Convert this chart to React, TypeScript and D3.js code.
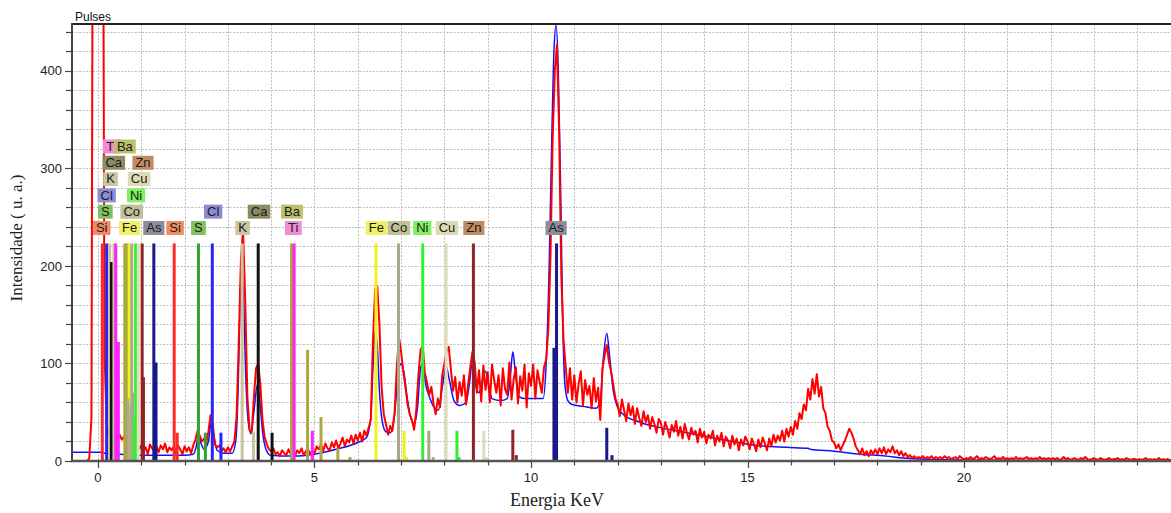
import React from 'react';
import * as d3 from 'd3';

// ---------------- DATA ----------------
// Measured spectrum (red), 0.05 keV steps; each row starts at redRowStart[r]
const redRowStart = [-0.6, 0, 1, 2, 3, 4, 5, 6, 7, 8, 9, 10, 11, 12, 13, 14, 15, 16, 17, 18, 19, 20, 21, 22, 23, 24];
const redRows: number[][] = [
  [0, 0, 0, 0, 0, 0, 0, 0, 3, 45, 1000, 1500],
  [1600, 1400, 900, 110, 40, 28, 22, 18, 21, 25, 27, 22, 25, 19, 23, 17, 21, 14, 18, 12],
  [16, 11, 14, 7, 17, 13, 10, 15, 9, 16, 12, 18, 9, 14, 11, 15, 8, 16, 12, 7],
  [15, 10, 14, 8, 16, 22, 31, 26, 20, 23, 18, 30, 47, 38, 17, 14, 16, 10, 13, 9],
  [14, 10, 15, 20, 45, 120, 205, 237, 165, 66, 32, 29, 65, 95, 100, 78, 42, 24, 17, 12],
  [10, 13, 7, 9, 5, 11, 8, 6, 12, 7, 9, 5, 11, 8, 13, 6, 10, 12, 7, 11],
  [8, 15, 12, 17, 10, 18, 13, 11, 19, 14, 21, 13, 18, 24, 15, 22, 19, 26, 18, 27],
  [21, 29, 20, 31, 26, 34, 42, 122, 176, 179, 140, 76, 48, 38, 27, 36, 31, 50, 95, 127],
  [112, 92, 76, 58, 48, 42, 32, 52, 88, 114, 118, 90, 80, 68, 76, 58, 48, 64, 55, 88],
  [100, 112, 117, 94, 72, 86, 60, 81, 67, 88, 58, 79, 97, 112, 101, 70, 93, 61, 98, 73],
  [91, 60, 99, 83, 70, 88, 57, 95, 74, 68, 101, 63, 84, 96, 59, 87, 72, 99, 55, 90],
  [77, 99, 64, 93, 81, 70, 96, 104, 135, 210, 330, 400, 427, 336, 190, 125, 97, 70, 95, 63],
  [88, 60, 79, 92, 57, 83, 68, 77, 54, 85, 61, 75, 42, 95, 108, 119, 102, 92, 78, 64],
  [58, 46, 63, 52, 41, 59, 47, 56, 38, 54, 44, 36, 51, 40, 47, 33, 45, 38, 29, 43],
  [39, 27, 40, 33, 24, 37, 30, 41, 26, 35, 23, 38, 29, 22, 34, 27, 31, 19, 33, 24],
  [30, 18, 27, 23, 31, 16, 26, 20, 29, 15, 25, 21, 13, 26, 17, 23, 11, 22, 16, 25],
  [20, 12, 23, 17, 10, 22, 14, 24, 18, 11, 23, 15, 27, 19, 26, 21, 31, 20, 33, 25],
  [35, 27, 41, 33, 49, 43, 58, 52, 74, 63, 84, 69, 89, 66, 76, 54, 49, 35, 31, 21],
  [19, 13, 17, 11, 16, 21, 27, 33, 29, 23, 15, 11, 7, 13, 6, 10, 5, 11, 7, 12],
  [7, 13, 8, 14, 7, 12, 9, 15, 8, 11, 6, 10, 5, 8, 4, 6, 3, 5, 3, 4],
  [3, 5, 2, 4, 3, 5, 2, 4, 3, 4, 2, 5, 3, 4, 2, 3, 4, 2, 5, 3],
  [2, 3, 2, 4, 2, 3, 5, 2, 3, 2, 4, 3, 2, 3, 5, 2, 3, 2, 4, 2],
  [3, 2, 3, 2, 4, 2, 3, 2, 3, 4, 2, 3, 2, 3, 2, 4, 2, 3, 2, 3],
  [2, 3, 2, 3, 1, 2, 4, 2, 3, 1, 2, 3, 2, 1, 3, 2, 4, 2, 1, 2],
  [3, 2, 1, 3, 2, 1, 2, 3, 1, 2, 2, 3, 1, 2, 1, 3, 2, 1, 2, 2],
  [1, 2, 1, 2, 3, 1, 2, 1, 2, 1, 3, 1, 2, 1, 2, 1, 1],
];
const redStep = 0.05;

// Fitted spectrum (blue)
const blueEnergy = [-0.6, 0.1, 0.15, 0.5, 1.0, 1.5, 2.0, 2.2, 2.27, 2.32, 2.38, 2.45, 2.55, 2.62, 2.68, 2.75, 2.9, 3.1, 3.18, 3.24, 3.28, 3.32, 3.36, 3.41, 3.47, 3.53, 3.6, 3.68, 3.74, 3.8, 3.88, 3.98, 4.5, 5.0, 5.5, 6.0, 6.2, 6.3, 6.35, 6.4, 6.45, 6.5, 6.56, 6.65, 6.75, 6.85, 6.93, 7.0, 7.06, 7.14, 7.22, 7.3, 7.38, 7.45, 7.5, 7.57, 7.66, 7.76, 7.86, 7.96, 8.04, 8.12, 8.22, 8.35, 8.5, 8.58, 8.64, 8.7, 8.8, 8.9, 8.95, 9.02, 9.1, 9.3, 9.45, 9.52, 9.58, 9.64, 9.72, 9.85, 10.28, 10.35, 10.42, 10.48, 10.53, 10.58, 10.63, 10.68, 10.73, 10.78, 10.85, 10.95, 11.2, 11.5, 11.6, 11.67, 11.75, 11.82, 11.9, 12.0, 12.1, 12.5, 12.9, 13.6, 14.4, 15.2, 15.9, 16.4, 16.45, 17.0, 17.6, 18.2, 18.6, 19.0, 20.0, 24.78];
const blueCounts = [9, 9, 8, 7, 6, 6, 6, 7, 15, 27, 18, 12, 20, 41, 25, 11, 8, 8, 20, 80, 160, 209, 170, 90, 40, 28, 50, 78, 60, 30, 12, 6, 5, 7, 12, 19, 24, 45, 95, 133, 118, 72, 42, 30, 29, 48, 88, 100, 92, 65, 45, 38, 55, 95, 100, 78, 65, 55, 52, 78, 97, 82, 62, 57, 60, 80, 100, 82, 70, 88, 92, 78, 64, 62, 64, 85, 112, 90, 66, 64, 64, 100, 200, 330, 420, 447, 400, 290, 150, 80, 62, 58, 56, 54, 62, 105, 131, 105, 72, 55, 49, 40, 35, 29, 22, 16, 14, 13, 12, 10, 7, 5, 3, 2, 1, 0.5];

// Element marker lines
const lineElement = ['Si', 'Cl', 'K', 'Ca', 'K', 'Ti', 'Ti', 'Ba', 'Ba', 'Fe', 'Co', 'Ni', 'Cu', 'Zn', 'Zn', 'As', 'As', 'Co', 'Co', 'Co', 'Ni', 'Ba',
  'Si', 'Si', 'S', 'S', 'Cl', 'Cl', 'K', 'K', 'Ca', 'Ca', 'Ba', 'Ba', 'Ba', 'Ba', 'Ba', 'Ti', 'Ti',
  'Fe', 'Fe', 'Fe', 'Co', 'Co', 'Co', 'Ni', 'Ni', 'Ni', 'Cu', 'Cu', 'Cu', 'Zn', 'Zn', 'Zn', 'As', 'As', 'As', 'As'];
const lineEnergy = [0.10, 0.20, 0.27, 0.31, 0.37, 0.41, 0.47, 0.62, 0.67, 0.72, 0.78, 0.87, 0.93, 1.02, 1.05, 1.29, 1.34, 0.69, 0.80, 0.76, 0.84, 0.64,
  1.76, 1.83, 2.32, 2.48, 2.64, 2.84, 3.33, 3.59, 3.70, 4.02, 4.47, 4.84, 5.15, 5.54, 5.82, 4.53, 4.95,
  6.42, 7.07, 7.13, 6.94, 7.64, 7.74, 7.50, 8.29, 8.34, 8.04, 8.91, 8.97, 8.67, 9.58, 9.66, 10.53, 10.59, 11.75, 11.87];
const lineIntensity = [223, 223, 223, 204, 223, 223, 122, 223, 223, 223, 223, 223, 223, 223, 86, 223, 101, 64, 70, 57, 44, 27,
  223, 29, 223, 29, 223, 29, 223, 30, 223, 29, 223, 114, 45, 13, 4, 223, 31,
  223, 31, 4, 223, 31, 4, 223, 31, 4, 223, 31, 4, 223, 32, 6, 116, 223, 34, 6];

// Element labels
const labelText = ['Si', 'S', 'Cl', 'K', 'Ca', 'Ti', 'Ba', 'Fe', 'Co', 'Ni', 'Cu', 'Zn', 'As', 'Si', 'S', 'Cl', 'K', 'Ca', 'Ba', 'Ti', 'Fe', 'Co', 'Ni', 'Cu', 'Zn', 'As'];
const labelEnergy = [0.085, 0.17, 0.2, 0.29, 0.365, 0.31, 0.62, 0.73, 0.78, 0.88, 0.95, 1.04, 1.29, 1.78, 2.32, 2.66, 3.34, 3.72, 4.48, 4.51, 6.43, 6.95, 7.49, 8.06, 8.68, 10.58];
const labelLevel = [0, 1, 2, 3, 4, 5, 5, 0, 1, 2, 3, 4, 0, 0, 0, 1, 0, 1, 1, 0, 0, 0, 0, 0, 0, 0];

const xTicks = [0, 5, 10, 15, 20];
const yTicks = [0, 100, 200, 300, 400];

// ---------------- STYLE ----------------
const lineColor: Record<string, string> = {
  Si: '#ff2a2a', S: '#33a033', Cl: '#2424ff', K: '#c9c39c', Ca: '#111111', Ti: '#ff22ff', Ba: '#a9a840',
  Fe: '#f2f218', Co: '#aaa88c', Ni: '#30f030', Cu: '#dfdcb8', Zn: '#902424', As: '#18188a',
};
const labelColor: Record<string, string> = {
  Si: '#f08c64', S: '#80c060', Cl: '#8c8cd2', K: '#c8c8a0', Ca: '#8c8c64', Ti: '#f08cd2', Ba: '#c0c06c',
  Fe: '#f0f064', Co: '#c0c096', Ni: '#80f064', Cu: '#dcdcb4', Zn: '#c08c64', As: '#8c8c9b',
};
const charW: Record<string, number> = {
  A: 0.667, B: 0.667, C: 0.722, F: 0.611, K: 0.667, N: 0.722, S: 0.667, T: 0.611, Z: 0.611,
  a: 0.556, e: 0.556, i: 0.222, l: 0.222, n: 0.556, o: 0.556, s: 0.5, u: 0.556,
};

const W = 1171;
const H = 513;
const L = 72, R = 1171, T = 24, B = 461;
const sans = '"Liberation Sans", Arial, sans-serif';
const serif = '"Liberation Serif", "Times New Roman", serif';

export default function App() {
  const x = d3.scaleLinear().domain([-0.6, 24.78]).range([L, R]);
  const y = d3.scaleLinear().domain([0, 448]).range([B, T]);

  const redPts: [number, number][] = redRows.flatMap((row, r) =>
    row.map((v, j) => [redRowStart[r] + j * redStep, v] as [number, number]));
  const bluePts: [number, number][] = blueEnergy.map((e, i) => [e, blueCounts[i]]);

  const redPath = d3.line<[number, number]>().x(d => x(d[0])).y(d => y(d[1]))(redPts) || '';
  const bluePath = d3.line<[number, number]>().x(d => x(d[0])).y(d => y(d[1])).curve(d3.curveMonotoneX)(bluePts) || '';

  const minorX = d3.range(0, 25, 1);
  const minorY = d3.range(0, 448, 20);

  const fs = 13;
  const tallTop = y(223);

  return (
    <svg width={W} height={H} style={{ position: 'absolute', left: 0, top: 0, background: '#fff' }}>
      <defs>
        <clipPath id="plotClip">
          <rect x={L} y={T} width={R - L} height={B - T} />
        </clipPath>
      </defs>
      <rect x={0} y={0} width={W} height={H} fill="#fff" />
      {/* grid */}
      <g stroke="#bdbdbd" strokeWidth={1} strokeDasharray="2,1.5">
        {minorX.map(v => (
          <line key={'gx' + v} x1={Math.round(x(v)) + 0.5} x2={Math.round(x(v)) + 0.5} y1={T} y2={B} />
        ))}
        {minorY.filter(v => v > 0).map(v => (
          <line key={'gy' + v} x1={L} x2={R} y1={Math.round(y(v)) + 0.5} y2={Math.round(y(v)) + 0.5} />
        ))}
      </g>

      {/* spectra */}
      <g clipPath="url(#plotClip)">
        <path d={bluePath} fill="none" stroke="#1010ff" strokeWidth={1.5} />
        <path d={redPath} fill="none" stroke="#ff0000" strokeWidth={2} strokeLinejoin="round" />
      </g>

      {/* element lines */}
      <g>
        {lineEnergy.map((e, i) => (
          <rect key={'ln' + i} x={x(e) - 1.5} width={3} y={y(lineIntensity[i])}
            height={y(0) - y(lineIntensity[i])} fill={lineColor[lineElement[i]]} />
        ))}
      </g>

      {/* labels */}
      <g>
        {labelText.map((t, i) => {
          const tw = t.split('').reduce((s, c) => s + (charW[c] || 0.6), 0) * fs;
          const bw = tw + 6;
          const bh = 14;
          const cx = x(labelEnergy[i]);
          const bottom = tallTop - 8.5 - labelLevel[i] * 16.3;
          return (
            <g key={'lb' + i}>
              <rect x={cx - bw / 2} y={bottom - bh} width={bw} height={bh} fill={labelColor[t]} />
              <text x={cx} y={bottom - 2.6} textAnchor="middle" fontFamily={sans} fontSize={fs} fill="#1a1a1a">{t}</text>
            </g>
          );
        })}
      </g>

      {/* axes */}
      <line x1={L} x2={R} y1={T} y2={T} stroke="#222" strokeWidth={2} />
      <line x1={L} x2={L} y1={T - 1} y2={B + 1} stroke="#444" strokeWidth={2} />
      <line x1={L - 1} x2={R} y1={B} y2={B} stroke="#555" strokeWidth={2.5} />
      <g stroke="#444" strokeWidth={1.2}>
        {minorY.map(v => (
          <line key={'ty' + v} x1={yTicks.includes(v) ? 65 : 66} x2={L} y1={Math.round(y(v)) + 0.5} y2={Math.round(y(v)) + 0.5} />
        ))}
        {minorX.map(v => (
          <line key={'tx' + v} x1={Math.round(x(v)) + 0.5} x2={Math.round(x(v)) + 0.5} y1={B} y2={xTicks.includes(v) ? B + 7 : B + 4.5} />
        ))}
      </g>
      <g fontFamily={sans} fontSize={13} fill="#222">
        {yTicks.map(v => (
          <text key={'yl' + v} x={62} y={y(v) + 4.6} textAnchor="end">{v}</text>
        ))}
        {xTicks.map(v => (
          <text key={'xl' + v} x={x(v)} y={482} textAnchor="middle">{v}</text>
        ))}
      </g>
      <text x={75} y={20.5} fontFamily={sans} fontSize={12} fill="#111">Pulses</text>
      <text x={557} y={506} textAnchor="middle" fontFamily={serif} fontSize={18} fill="#222">Energia KeV</text>
      <text transform="translate(22,238) rotate(-90)" textAnchor="middle" fontFamily={serif} fontSize={17} fill="#222">Intensidade ( u. a.)</text>
    </svg>
  );
}
